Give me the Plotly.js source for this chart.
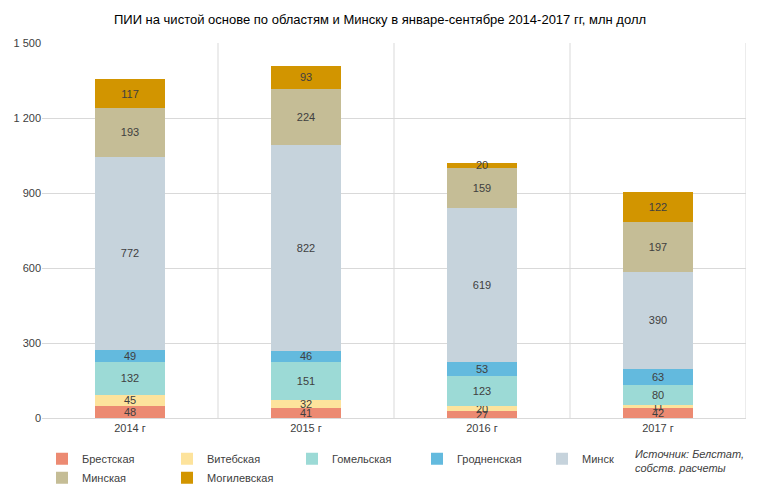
<!DOCTYPE html>
<html>
<head>
<meta charset="utf-8">
<script src="https://cdn.plot.ly/plotly-3.0.1.min.js"></script>
<style>body{margin:0}#chart{width:760px;height:504px}</style>
</head>
<body>
<div id="chart"></div>
<script>
const years = ['2014 г', '2015 г', '2016 г', '2017 г'];
const brest = [48, 41, 27, 42];
const vitebsk = [45, 32, 20, 11];
const gomel = [132, 151, 123, 80];
const grodno = [49, 46, 53, 63];
const minskCity = [772, 822, 619, 390];
const minskReg = [193, 224, 159, 197];
const mogilev = [117, 93, 20, 122];

const seriesDefs = [
    { name: 'Брестская', y: brest, color: '#ec8a72' },
    { name: 'Витебская', y: vitebsk, color: '#fde39c' },
    { name: 'Гомельская', y: gomel, color: '#9cdad6' },
    { name: 'Гродненская', y: grodno, color: '#63bade' },
    { name: 'Минск', y: minskCity, color: '#c6d3dc' },
    { name: 'Минская', y: minskReg, color: '#c5bd96' },
    { name: 'Могилевская', y: mogilev, color: '#d29500' }
];

const traces = seriesDefs.map(s => ({
    type: 'bar',
    x: years,
    y: s.y,
    name: s.name,
    marker: { color: s.color },
    width: 0.4,
    text: s.y.map(String),
    textposition: 'inside',
    insidetextanchor: 'middle',
    textangle: 0,
    constraintext: 'none',
    insidetextfont: { color: '#404040', size: 11 },
    hoverinfo: 'name+y'
}));

// category separators
const separatorShapes = [0.5, 1.5, 2.5, 3.5].map(v => ({
    type: 'line', xref: 'x', yref: 'paper', x0: v, x1: v, y0: 0, y1: 1,
    line: { color: '#d9d9d9', width: 1 }
}));

const layout = {
    barmode: 'stack',
    separators: ', ',
    uniformtext: { minsize: 11, mode: 'show' },
    font: { family: 'Liberation Sans, Arial', color: '#404040', size: 11 },
    plot_bgcolor: 'white',
    paper_bgcolor: 'white',
    title: {
        text: 'ПИИ на чистой основе по областям и Минску в январе-сентябре 2014-2017 гг, млн долл',
        font: { size: 13, color: '#000' },
        x: 0.5, y: 0.97
    },
    margin: { l: 42, r: 14, t: 43, b: 60 },
    xaxis: {
        showgrid: false,
        showline: true,
        linecolor: '#d9d9d9',
        ticks: '',
        range: [-0.5, 3.5]
    },
    yaxis: {
        range: [0, 1500],
        dtick: 300,
        tickformat: ',d',
        gridcolor: '#d9d9d9',
        zeroline: false,
        ticks: ''
    },
    shapes: separatorShapes,
    showlegend: true,
    legend: {
        orientation: 'h',
        x: 0.0, y: -0.07, xanchor: 'left', yanchor: 'top',
        font: { size: 11 },
        itemwidth: 30,
        entrywidth: 80,
        traceorder: 'normal'
    },
    annotations: [{
        xref: 'paper', yref: 'paper', x: 1, y: -0.075, xanchor: 'right', yanchor: 'top',
        text: '<i>Источник: Белстат,<br>собств. расчеты</i>',
        showarrow: false, align: 'left',
        font: { size: 11, color: '#404040' }
    }]
};

Plotly.newPlot('chart', traces, layout, { displayModeBar: false });
</script>
</body>
</html>
